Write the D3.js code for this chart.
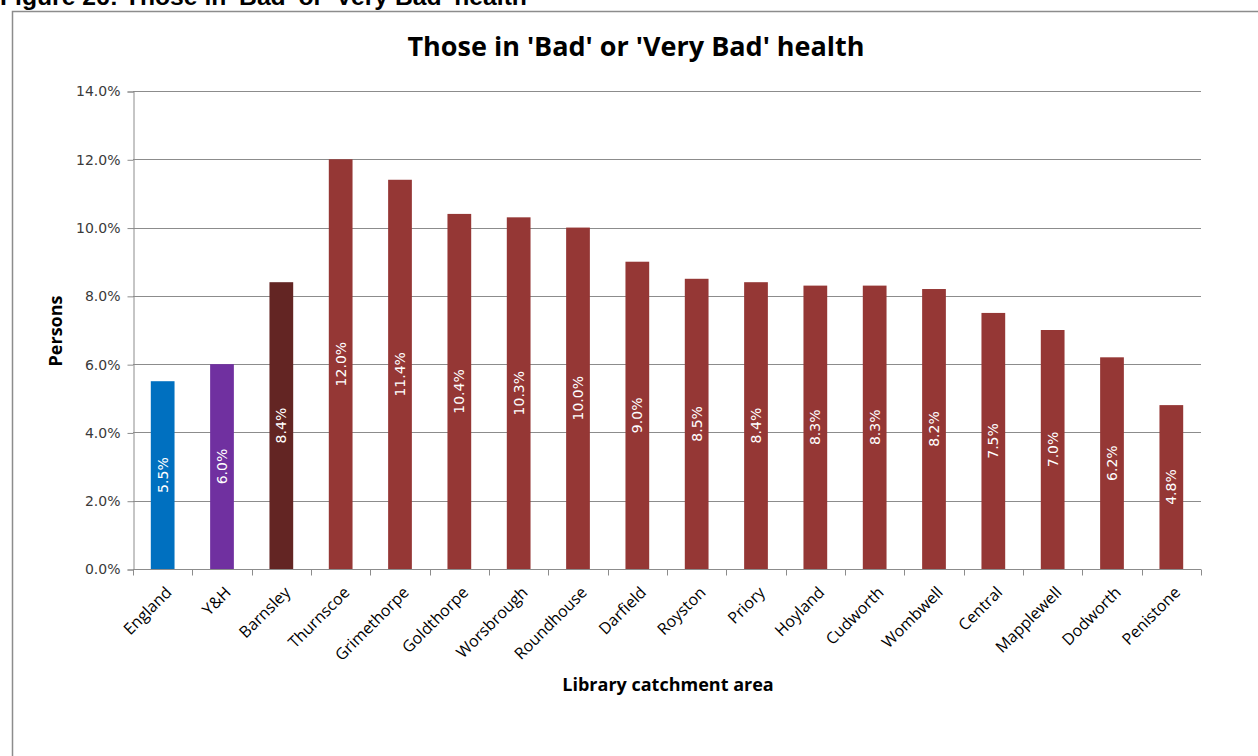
<!DOCTYPE html>
<html>
<head>
<meta charset="utf-8">
<script src="https://cdn.jsdelivr.net/npm/d3@7"></script>
<style>
  html, body { margin: 0; padding: 0; background: #fff; }
  svg { display: block; }
</style>
</head>
<body>
<svg id="chart" width="1258" height="756"></svg>
<script>
// Share of residents reporting 'Bad' or 'Very Bad' health, by library catchment area
const areas = ["England", "Y&H", "Barnsley", "Thurnscoe", "Grimethorpe", "Goldthorpe",
  "Worsbrough", "Roundhouse", "Darfield", "Royston", "Priory", "Hoyland", "Cudworth",
  "Wombwell", "Central", "Mapplewell", "Dodworth", "Penistone"];
const shares = [5.5, 6.0, 8.4, 12.0, 11.4, 10.4, 10.3, 10.0, 9.0, 8.5, 8.4, 8.3, 8.3,
  8.2, 7.5, 7.0, 6.2, 4.8];
const yTicks = [0, 2, 4, 6, 8, 10, 12, 14];

// Comparator areas get their own colours; catchments share one
const barColours = { "England": "#0070c0", "Y&H": "#7030a0", "Barnsley": "#632523" };
const catchmentColour = "#953735";

const svg = d3.select("#chart");
const titleFont = "'Open Sans', Lato, sans-serif";
const numFont = "'DejaVu Sans', Verdana, sans-serif";

// Figure caption above the chart frame
svg.append("text")
  .attr("x", 0).attr("y", 5)
  .attr("font-family", "'Liberation Sans', Arial, sans-serif")
  .attr("font-weight", "bold").attr("font-size", 24.7)
  .attr("fill", "#000")
  .text("Figure 26: Those in 'Bad' or 'Very Bad' health");

// Chart frame (left and top edges)
svg.append("path")
  .attr("d", "M12.5,756 V11.5 H1258")
  .attr("fill", "none").attr("stroke", "#8c8c8c").attr("stroke-width", 1.5);

const plot = { left: 133, right: 1201, top: 91, bottom: 569 };

const x = d3.scaleBand().domain(areas).range([plot.left, plot.right]).paddingInner(0.6).paddingOuter(0.3);
const xOuter = d3.scaleBand().domain(areas).range([plot.left, plot.right]);
const y = d3.scaleLinear().domain([0, 14]).range([plot.bottom, plot.top]);

// Horizontal gridlines
svg.append("g").selectAll("line").data(yTicks.slice(1)).join("line")
  .attr("x1", plot.left).attr("x2", plot.right)
  .attr("y1", d => Math.round(y(d)) + 0.5).attr("y2", d => Math.round(y(d)) + 0.5)
  .attr("stroke", "#8c8c8c").attr("stroke-width", 1);

// Y axis
const yAxis = svg.append("g")
  .attr("transform", `translate(${plot.left + 0.5},0.5)`)
  .call(d3.axisLeft(y).tickValues(yTicks).tickSize(6).tickPadding(7)
    .tickFormat(d => d.toFixed(1) + "%"));
yAxis.select(".domain").attr("stroke", "#8c8c8c");
yAxis.selectAll(".tick line").attr("stroke", "#8c8c8c");
yAxis.selectAll("text").attr("font-family", numFont).attr("font-size", 14).attr("fill", "#3a3a3a");

// Bars
svg.append("g").selectAll("rect").data(areas).join("rect")
  .attr("x", d => x(d))
  .attr("width", x.bandwidth())
  .attr("y", (d, i) => y(shares[i]))
  .attr("height", (d, i) => y(0) - y(shares[i]))
  .attr("fill", d => barColours[d] || catchmentColour);

// Value labels inside bars, rotated
svg.append("g").selectAll("text").data(areas).join("text")
  .attr("transform", (d, i) => {
    const cx = x(d) + x.bandwidth() / 2;
    const cy = (y(shares[i]) + y(0)) / 2;
    return `translate(${cx},${cy}) rotate(-90)`;
  })
  .attr("text-anchor", "middle").attr("dy", "0.35em")
  .attr("font-family", numFont).attr("font-size", 14).attr("fill", "#fff")
  .text((d, i) => shares[i].toFixed(1) + "%");

// X axis with tick marks between categories
const xAxisG = svg.append("g").attr("transform", `translate(0,${plot.bottom + 0.5})`);
xAxisG.append("line")
  .attr("x1", plot.left).attr("x2", plot.right)
  .attr("stroke", "#8c8c8c");
xAxisG.selectAll("line.tick").data(areas.map(a => xOuter(a)).concat([plot.right])).join("line")
  .attr("class", "tick")
  .attr("x1", d => Math.round(d) + 0.5).attr("x2", d => Math.round(d) + 0.5)
  .attr("y1", 0).attr("y2", 6)
  .attr("stroke", "#8c8c8c");
xAxisG.selectAll("text").data(areas).join("text")
  .attr("transform", d => `translate(${xOuter(d) + xOuter.bandwidth() / 2 + 6},${20}) rotate(-45)`)
  .attr("text-anchor", "end").attr("dy", "0.35em")
  .attr("font-family", titleFont).attr("font-size", 16).attr("fill", "#000")
  .text(d => d);

// Titles
svg.append("text")
  .attr("x", 636).attr("y", 56)
  .attr("text-anchor", "middle")
  .attr("font-family", titleFont).attr("font-weight", "bold").attr("font-size", 27)
  .attr("fill", "#000")
  .text("Those in 'Bad' or 'Very Bad' health");

svg.append("text")
  .attr("x", 668).attr("y", 691)
  .attr("text-anchor", "middle")
  .attr("font-family", titleFont).attr("font-weight", "bold").attr("font-size", 18)
  .attr("fill", "#000")
  .text("Library catchment area");

svg.append("text")
  .attr("transform", "translate(62,331) rotate(-90)")
  .attr("text-anchor", "middle")
  .attr("font-family", titleFont).attr("font-weight", "bold").attr("font-size", 18)
  .attr("fill", "#000")
  .text("Persons");
</script>
</body>
</html>
